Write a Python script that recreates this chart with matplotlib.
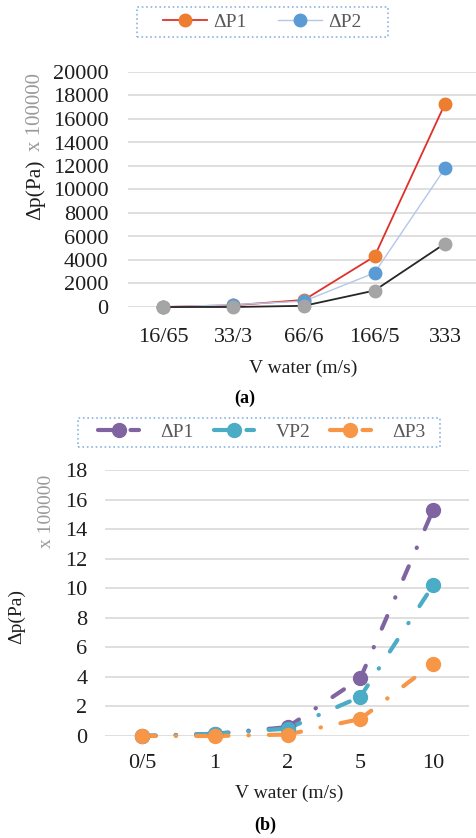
import matplotlib
matplotlib.use("Agg")
import matplotlib.pyplot as plt
from matplotlib.patches import Rectangle
from matplotlib.lines import Line2D
from matplotlib.legend_handler import HandlerLine2D

plt.rcParams['font.family'] = ['Liberation Serif', 'DejaVu Serif']

# panel (a) data
cats_a = ["16/65", "33/3", "66/6", "166/5", "333"]
dp1_a = [0, 150, 600, 4300, 17300]
dp2_a = [0, 200, 500, 2900, 11800]
dp3_a = [0, 0, 100, 1400, 5400]

# panel (b) data
cats_b = ["0/5", "1", "2", "5", "10"]
dp1_b = [0, 0.15, 0.6, 3.9, 15.3]
vp2_b = [0, 0.15, 0.5, 2.65, 10.2]
dp3_b = [0, 0, 0.1, 1.15, 4.9]

W, H = 477, 838
fig = plt.figure(figsize=(W / 100, H / 100), dpi=100)

def box(x0, y0, x1, y1):
    # pixel box (top-left origin) -> figure fraction rect
    return [x0 / W, 1 - y1 / H, (x1 - x0) / W, (y1 - y0) / H]

def fx(x):
    return x / W

def fy(y):
    return 1 - y / H

grid_c = '#D9D9D9'
txt_c = '#1E1E1E'

def style_axes(ax, ymax, ystep, pady, padx):
    for s in ax.spines.values():
        s.set_visible(False)
    ax.set_ylim(0, ymax)
    ax.set_yticks(range(0, ymax + 1, ystep))
    ax.set_xlim(-0.5, 4.5)
    ax.grid(axis='y', color=grid_c, linewidth=1.2, zorder=0)
    ax.set_axisbelow(True)
    ax.tick_params(axis='y', length=0, pad=pady, labelsize=16, labelcolor=txt_c)
    ax.tick_params(axis='x', length=0, pad=padx, labelsize=16, labelcolor=txt_c)

def dotted_box(x0, y0, x1, y1):
    r = Rectangle((fx(x0), fy(y1)), (x1 - x0) / W, (y1 - y0) / H,
                  transform=fig.transFigure, fill=False, edgecolor='#8DB3E2',
                  linestyle=':', linewidth=1.2)
    fig.patches.append(r)

class MarkRight(HandlerLine2D):
    # marker sits near the right end of the legend line, like Excel
    def get_xdata(self, legend, xdescent, ydescent, width, height, fontsize):
        xdata, _ = super().get_xdata(legend, xdescent, ydescent, width, height, fontsize)
        return xdata, [-xdescent + 0.78 * width]

# ---------- (a) ----------
ax1 = fig.add_axes(box(127.75, 72, 480.25, 307))
x = range(len(cats_a))
ax1.plot(x, dp1_a, color='#E0302B', lw=1.3, marker='o', ms=9,
         mfc='#ED7D31', mec='#ED7D31', clip_on=False, zorder=3, label='ΔP1')
ax1.plot(x, dp2_a, color='#B4C7E7', lw=1.0, marker='o', ms=9,
         mfc='#5B9BD5', mec='#5B9BD5', clip_on=False, zorder=4, label='ΔP2')
ax1.plot(x, dp3_a, color='#262626', lw=1.3, marker='o', ms=9,
         mfc='#A5A5A5', mec='#A5A5A5', clip_on=False, zorder=5)
ax1.set_xticks(list(x))
ax1.set_xticklabels(cats_a)
style_axes(ax1, 20000, 2000, 14, 15)

fig.text(fx(35), fy(190), 'Δp(Pa)', rotation=90, ha='center', va='center',
         fontsize=15.5, color=txt_c)
fig.text(fx(35), fy(112), 'x 100000', rotation=90, ha='center', va='center',
         fontsize=15, color='#9A9A9A')
fig.text(fx(303), fy(368), 'V water (m/s)', ha='center', va='center',
         fontsize=14, color=txt_c)
fig.text(fx(245), fy(398), '(a)', ha='center', va='center',
         fontsize=13, fontweight='bold', color='black')

h1, l1 = ax1.get_legend_handles_labels()
fig.legend(h1, l1, loc='center', bbox_to_anchor=(fx(262), fy(22)),
           ncol=2, fontsize=14, handlelength=2.3, handletextpad=0.3,
           columnspacing=1.6, frameon=False, borderpad=0.1,
           labelcolor='#595959')
dotted_box(137, 7, 388, 37)

# ---------- (b) ----------
ax2 = fig.add_axes(box(105.5, 470, 469.5, 736))
xb = list(range(len(cats_b)))
dd = (3.3, 4.8, 0.1, 4.8)
series_b = [(dp1_b, '#8064A2', 'ΔP1'), (vp2_b, '#4BACC6', 'VP2'),
            (dp3_b, '#F79646', 'ΔP3')]
handles_b = []
for k, (vals, col, lab) in enumerate(series_b):
    # Excel restarts the dash pattern on every segment
    for i in range(len(xb) - 1):
        ax2.plot(xb[i:i + 2], vals[i:i + 2], color=col, lw=3, ls=(0, dd),
                 dash_capstyle='round', clip_on=False, zorder=3 + k)
    ax2.plot(xb, vals, ls='none', marker='o', ms=10, color=col,
             clip_on=False, zorder=6 + k)
    handles_b.append(Line2D([], [], color=col, lw=3, ls=(0, (3.3, 2.2, 0.1, 2.2)),
                            dash_capstyle='round', marker='o', ms=10, label=lab))
ax2.set_xticks(xb)
ax2.set_xticklabels(cats_b)
style_axes(ax2, 18, 2, 13, 13)

fig.text(fx(17), fy(616), 'Δp(Pa)', rotation=90, ha='center', va='center',
         fontsize=14, color=txt_c)
fig.text(fx(47), fy(511), 'x 100000', rotation=90, ha='center', va='center',
         fontsize=14, color='#9A9A9A')
fig.text(fx(289), fy(793), 'V water (m/s)', ha='center', va='center',
         fontsize=14, color=txt_c)
fig.text(fx(265), fy(825), '(b)', ha='center', va='center',
         fontsize=13, fontweight='bold', color='black')

fig.legend(handles=handles_b, loc='center', bbox_to_anchor=(fx(262), fy(432)),
           ncol=3, fontsize=14, handlelength=2.1, handletextpad=1.1,
           columnspacing=1.0, frameon=False, borderpad=0.1,
           labelcolor='#595959', handler_map={Line2D: MarkRight()})
dotted_box(78, 418, 440, 447)

fig.savefig('out.png', dpi=100)
